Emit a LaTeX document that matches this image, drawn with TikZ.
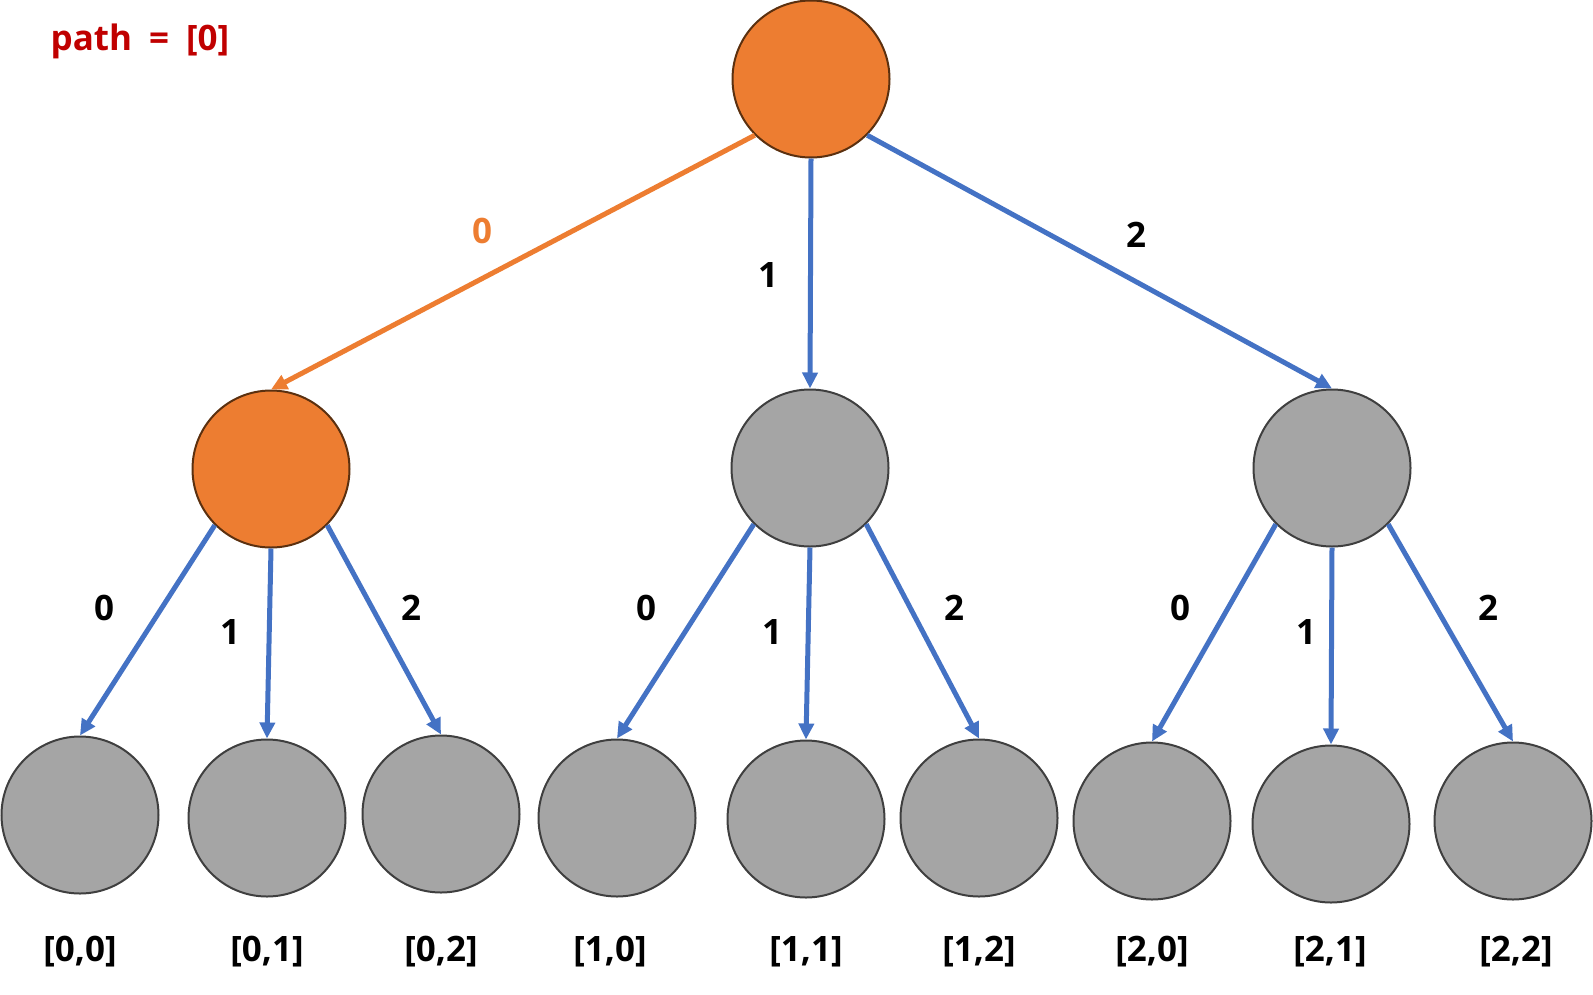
\documentclass[tikz,border=0pt]{standalone}
\usepackage{fontspec}
\setmainfont{Open Sans}
\usetikzlibrary{arrows.meta}
\definecolor{orng}{HTML}{ED7D31}
\definecolor{obrd}{HTML}{5B300F}
\definecolor{gry}{HTML}{A5A5A5}
\definecolor{gbrd}{HTML}{3F3F3F}
\definecolor{blu}{HTML}{4472C4}
\definecolor{redtxt}{HTML}{C00000}
\begin{document}
\begin{tikzpicture}[x=1pt,y=-1pt,
  vert/.style={circle,minimum size=157pt,inner sep=0pt,line width=2pt},
  onode/.style={vert,fill=orng,draw=obrd},
  gnode/.style={vert,fill=gry,draw=gbrd},
  conn/.style={draw=blu,line width=5pt,-{Triangle[length=16pt,width=15pt]}},
  oconn/.style={conn,draw=orng},
  lab/.style={font=\bfseries\fontsize{35}{41}\selectfont,inner sep=0pt}
]
\useasboundingbox (0,0) rectangle (1593,994);
\node[lab,text=redtxt] (title) at (140,41) {path\hspace{17pt}=\hspace{17pt}[0]};
\node[onode] (r) at (811,79) {};
\node[onode] (a) at (271,469) {};
\node[gnode] (b) at (810,468) {};
\node[gnode] (c) at (1332,468) {};
\node[gnode] (l1) at (80,815) {};
\node[gnode] (l2) at (267,818) {};
\node[gnode] (l3) at (441,814) {};
\node[gnode] (l4) at (617,818) {};
\node[gnode] (l5) at (806,819) {};
\node[gnode] (l6) at (979,818) {};
\node[gnode] (l7) at (1152,821) {};
\node[gnode] (l8) at (1331,824) {};
\node[gnode] (l9) at (1513,821) {};
\draw[oconn] (r.225) -- (a.north);
\draw[conn] (r.south) -- (b.north);
\draw[conn] (r.315) -- (c.north);
\draw[conn] (a.225) -- (l1.north);
\draw[conn] (a.south) -- (l2.north);
\draw[conn] (a.315) -- (l3.north);
\draw[conn] (b.225) -- (l4.north);
\draw[conn] (b.south) -- (l5.north);
\draw[conn] (b.315) -- (l6.north);
\draw[conn] (c.225) -- (l7.north);
\draw[conn] (c.south) -- (l8.north);
\draw[conn] (c.315) -- (l9.north);
\node[lab,text=orng] (e1) at (482,231) {0};
\node[lab] (e2) at (768,275) {1};
\node[lab] (e3) at (1136,235) {2};
\node[lab] (f1) at (104,608) {0};
\node[lab] (f2) at (230,632) {1};
\node[lab] (f3) at (411,608) {2};
\node[lab] (f4) at (646,608) {0};
\node[lab] (f5) at (772,632) {1};
\node[lab] (f6) at (954,608) {2};
\node[lab] (f7) at (1180,608) {0};
\node[lab] (f8) at (1306,632) {1};
\node[lab] (f9) at (1488,608) {2};
\node[lab] (t1) at (80,952) {[0,0]};
\node[lab] (t2) at (267,952) {[0,1]};
\node[lab] (t3) at (441,952) {[0,2]};
\node[lab] (t4) at (610,952) {[1,0]};
\node[lab] (t5) at (806,952) {[1,1]};
\node[lab] (t6) at (979,952) {[1,2]};
\node[lab] (t7) at (1152,952) {[2,0]};
\node[lab] (t8) at (1330,952) {[2,1]};
\node[lab] (t9) at (1516,952) {[2,2]};
\end{tikzpicture}
\end{document}
